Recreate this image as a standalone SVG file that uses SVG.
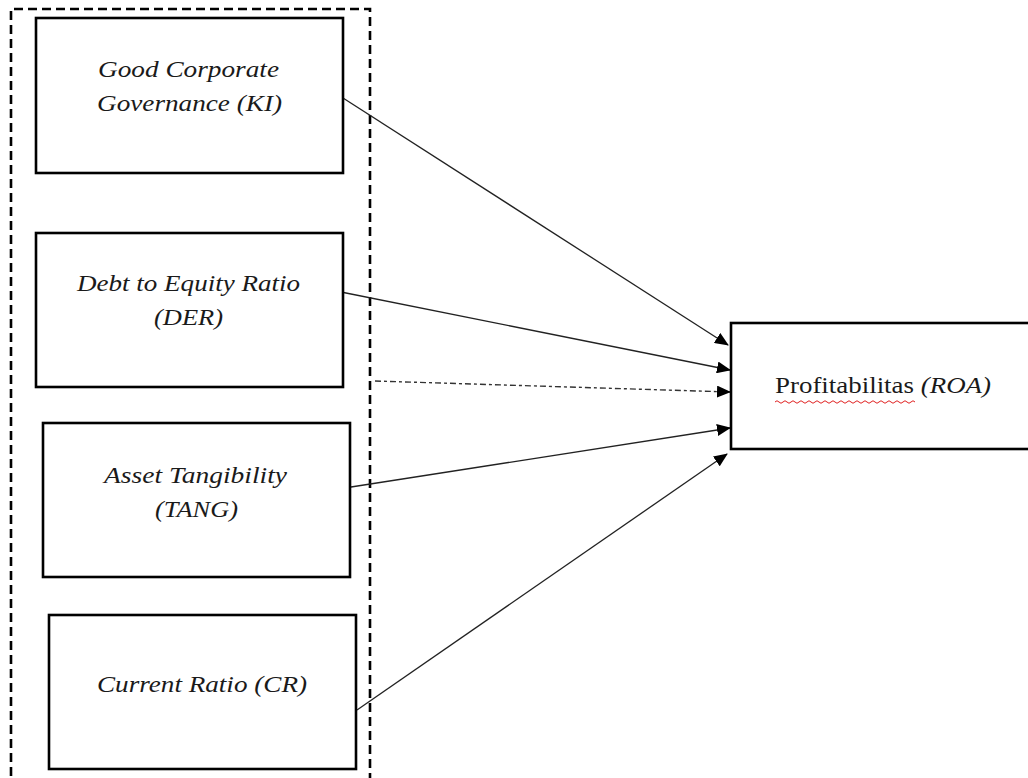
<svg xmlns="http://www.w3.org/2000/svg" width="1028" height="778" viewBox="0 0 1028 778">
  <style>
    .box { fill: #ffffff; stroke: #000000; stroke-width: 2.6; }
    .lbl { font-family: "Liberation Serif", "Times New Roman", serif; font-size: 22.5px; font-style: italic; fill: #1a1a1a; }
    .up { font-style: normal; }
    .conn { stroke: #222222; stroke-width: 1.3; fill: none; }
    .dashdot { stroke: #333333; stroke-width: 1.4; fill: none; stroke-dasharray: 6 3 3 3; }
    .frame { fill: none; stroke: #000000; stroke-width: 2.6; stroke-dasharray: 9 5; }
  </style>
  <defs>
    <marker id="arrow" markerWidth="14" markerHeight="12" refX="13" refY="6" orient="auto" markerUnits="userSpaceOnUse">
      <path d="M0,0 L14,6 L0,12 Z" fill="#000000"/>
    </marker>
  </defs>
  <rect width="1028" height="778" fill="#ffffff"/>

  <g id="frame">
    <path class="frame" d="M11,790 L11,9 L370,9 L370,790"/>
  </g>

  <g id="connectors">
    <line class="conn" x1="343" y1="98" x2="728" y2="345" marker-end="url(#arrow)"/>
    <line class="conn" x1="341" y1="292" x2="730" y2="370" marker-end="url(#arrow)"/>
    <line class="dashdot" x1="375" y1="381" x2="730" y2="392" marker-end="url(#arrow)"/>
    <line class="conn" x1="351" y1="487" x2="730" y2="428" marker-end="url(#arrow)"/>
    <line class="conn" x1="357" y1="710" x2="727" y2="454" marker-end="url(#arrow)"/>
  </g>

  <g id="node-gcg">
    <rect class="box" x="36" y="18" width="307" height="155"/>
    <text class="lbl" x="98" y="77" textLength="181" lengthAdjust="spacingAndGlyphs">Good Corporate</text>
    <text class="lbl" x="97" y="111" textLength="185" lengthAdjust="spacingAndGlyphs">Governance (KI)</text>
  </g>

  <g id="node-der">
    <rect class="box" x="36" y="233" width="307" height="154"/>
    <text class="lbl" x="77" y="291" textLength="223" lengthAdjust="spacingAndGlyphs">Debt to Equity Ratio</text>
    <text class="lbl" x="154" y="325" textLength="69" lengthAdjust="spacingAndGlyphs">(DER)</text>
  </g>

  <g id="node-tang">
    <rect class="box" x="43" y="423" width="307" height="154"/>
    <text class="lbl" x="104" y="483" textLength="183" lengthAdjust="spacingAndGlyphs">Asset Tangibility</text>
    <text class="lbl" x="155" y="517" textLength="83" lengthAdjust="spacingAndGlyphs">(TANG)</text>
  </g>

  <g id="node-cr">
    <rect class="box" x="49" y="615" width="307" height="154"/>
    <text class="lbl" x="97" y="692" textLength="210" lengthAdjust="spacingAndGlyphs">Current Ratio (CR)</text>
  </g>

  <g id="node-roa">
    <rect class="box" x="731" y="323" width="310" height="126"/>
    <text class="lbl" x="775" y="393" textLength="216" lengthAdjust="spacingAndGlyphs"><tspan class="up">Profitabilitas </tspan>(ROA)</text>
    <path d="M775,402 q2,-2.5 4,0 t4,0 t4,0 t4,0 t4,0 t4,0 t4,0 t4,0 t4,0 t4,0 t4,0 t4,0 t4,0 t4,0 t4,0 t4,0 t4,0 t4,0 t4,0 t4,0 t4,0 t4,0 t4,0 t4,0 t4,0 t4,0 t4,0 t4,0 t4,0 t4,0 t4,0 t4,0 t4,0 t4,0 t4,0" fill="none" stroke="#e02020" stroke-width="1"/>
  </g>
</svg>
